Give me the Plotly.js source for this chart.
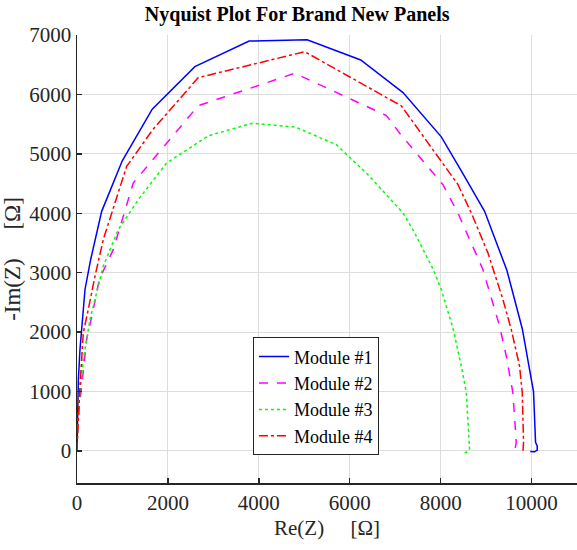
<!DOCTYPE html>
<html>
<head>
<meta charset="utf-8">
<script src="https://cdn.plot.ly/plotly-3.0.1.min.js"></script>
<style>html,body{margin:0;padding:0;background:#fff;}#chart{width:577px;height:550px;}</style>
</head>
<body>
<div id="chart"></div>
<script>
// Module #1 (blue, solid)
const m1Re = [0, 8, 30, 66, 103, 176, 301, 543, 996, 1655, 2593, 3787, 5062, 6242, 7172, 8015, 8490, 8967, 9457, 9796, 10044, 10088, 10125, 10125, 10066, 9971];
const m1Im = [0, 600, 1200, 1711, 2101, 2717, 3222, 4032, 4883, 5751, 6467, 6898, 6920, 6580, 6030, 5286, 4665, 4032, 3041, 2057, 993, 143, 86, 13, -15, -8];
// Module #2 (magenta, dashed)
const m2Re = [0, 29, 103, 213, 358, 490, 798, 1237, 2666, 4791, 6807, 7099, 8051, 8380, 8930, 9297, 9444, 9589, 9664, 9626, 9575];
const m2Im = [0, 589, 1093, 1881, 2381, 2885, 3388, 4509, 5810, 6356, 5645, 5348, 4480, 4005, 3053, 2101, 1597, 982, 143, -15, -20];
// Module #3 (green, dotted)
const m3Re = [0, 7, 51, 139, 286, 578, 908, 1348, 1971, 2886, 3861, 4813, 5708, 6402, 7172, 7429, 7838, 8015, 8278, 8455, 8565, 8622, 8637, 8564, 8491];
const m3Im = [0, 200, 870, 1543, 2213, 3110, 3725, 4229, 4845, 5303, 5516, 5449, 5152, 4649, 4005, 3669, 3053, 2717, 2045, 1429, 982, 143, 18, -25, -25];
// Module #4 (red, dash-dot)
const m4Re = [0, 7, 25, 66, 139, 248, 396, 578, 1092, 1664, 2666, 5011, 7136, 8380, 8675, 9040, 9370, 9554, 9736, 9796, 9824, 9810];
const m4Im = [0, 86, 500, 1093, 1990, 2381, 2941, 3557, 4788, 5404, 6282, 6719, 5807, 4484, 4005, 3333, 2549, 2045, 1429, 982, 143, -25];

const names = ['Module #1', 'Module #2', 'Module #3', 'Module #4'];
const xTicks = [0, 2000, 4000, 6000, 8000, 10000];
const yTicks = [0, 1000, 2000, 3000, 4000, 5000, 6000, 7000];

const font = 'Liberation Serif, Times New Roman, serif';
const mk = (x, y, name, color, dash) => ({
  x: x, y: y, name: name, type: 'scatter', mode: 'lines',
  line: {color: color, width: 1.5, dash: dash}
});
const data = [
  mk(m1Re, m1Im, names[0], '#0000ff', 'solid'),
  mk(m2Re, m2Im, names[1], '#ff00ff', 'dash'),
  mk(m3Re, m3Im, names[2], '#00ff00', 'dot'),
  mk(m4Re, m4Im, names[3], '#ff0000', 'dashdot')
];
const layout = {
  width: 577, height: 550,
  margin: {l: 77, r: 0, t: 35, b: 67},
  paper_bgcolor: '#fff', plot_bgcolor: '#fff',
  font: {family: font, color: '#262626', size: 21},
  title: {text: '<b>Nyquist Plot For Brand New Panels</b>', font: {family: font, size: 20, color: '#000'}, x: 0.515, xref: 'container', xanchor: 'center', y: 0.975, yanchor: 'middle'},
  xaxis: {
    range: [0, 11000], tickvals: xTicks, ticktext: xTicks.map(String),
    showgrid: true, gridcolor: '#dddddd', gridwidth: 1, zeroline: false,
    showline: true, linecolor: '#262626', linewidth: 1.5,
    ticks: 'inside', ticklen: 5, tickcolor: '#262626', tickwidth: 1.5,
    tickfont: {family: font, size: 21, color: '#262626'},
    title: {text: 'Re(Z)\u00a0\u00a0\u00a0\u00a0\u00a0[\u03a9]', font: {family: font, size: 21, color: '#262626'}, standoff: 6}
  },
  yaxis: {
    range: [-540, 7000], tickvals: yTicks, ticktext: yTicks.map(String),
    showgrid: true, gridcolor: '#dddddd', gridwidth: 1, zeroline: false,
    showline: true, linecolor: '#262626', linewidth: 1.5,
    ticks: 'inside', ticklen: 5, tickcolor: '#262626', tickwidth: 1.5,
    tickfont: {family: font, size: 21, color: '#262626'},
    title: {text: '-Im(Z)\u00a0\u00a0\u00a0\u00a0\u00a0[\u03a9]', font: {family: font, size: 23, color: '#262626'}, standoff: 2}
  },
  showlegend: true,
  legend: {
    x: 0.352, y: 0.325, xanchor: 'left', yanchor: 'top',
    bgcolor: '#ffffff', bordercolor: '#262626', borderwidth: 1,
    font: {family: font, size: 18, color: '#000'},
    tracegroupgap: 0, itemwidth: 30
  }
};
Plotly.newPlot('chart', data, layout, {displayModeBar: false, staticPlot: true});
</script>
</body>
</html>
